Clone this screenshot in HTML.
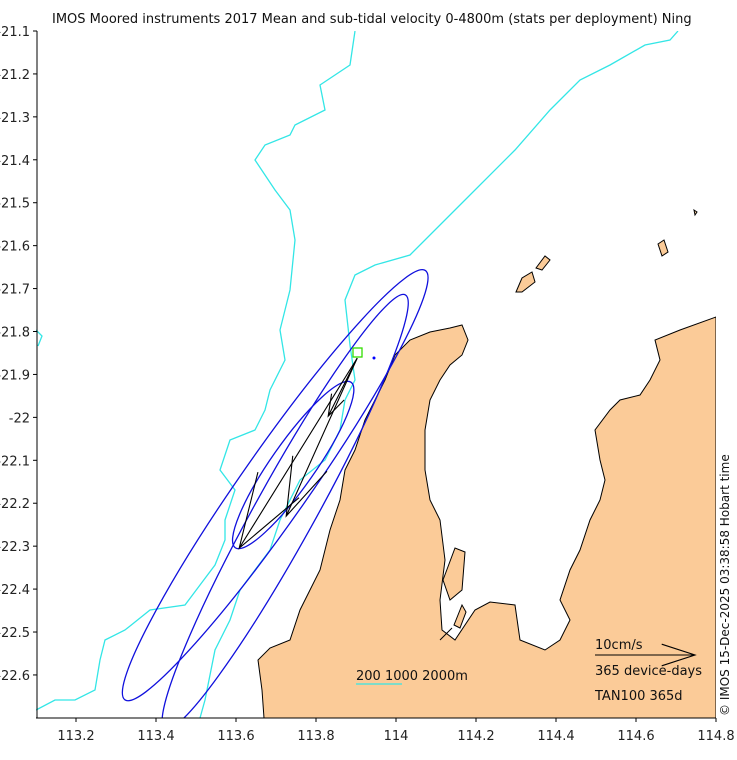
<!DOCTYPE html>
<html><head><meta charset="utf-8"><style>
body{margin:0;background:#fff;}
svg{display:block;font-family:"DejaVu Sans","Liberation Sans",sans-serif;}
</style></head><body>
<svg id="chart" width="737" height="760" viewBox="0 0 737 760">
<defs><clipPath id="plotclip"><rect x="36" y="31" width="680" height="687"/></clipPath></defs>
<text x="52" y="23" font-size="13" fill="#111">IMOS Moored instruments 2017 Mean and sub-tidal velocity 0-4800m (stats per deployment) Ning</text>
<g id="map" clip-path="url(#plotclip)">
<path fill="#fbcb98" stroke="#000" stroke-width="1" d="M264,718 L262,690 L258,660 L270,648 L290,640 L300,610 L320,570 L330,530 L340,500 L345,470 L355,450 L365,420 L375,400 L385,380 L395,355 L410,340 L430,332 L450,328 L462,325 L468,340 L462,355 L450,365 L440,380 L430,400 L425,430 L425,470 L430,500 L440,520 L445,560 L440,600 L442,630 L455,640 L475,610 L490,602 L515,605 L520,640 L545,650 L560,640 L570,620 L560,600 L570,570 L580,550 L590,520 L600,500 L605,480 L600,460 L595,430 L610,410 L620,400 L640,395 L650,380 L660,360 L655,340 L680,330 L716,317 L716,718 Z"/>
<path fill="#fbcb98" stroke="#000" stroke-width="1" d="M516,292 L522,278 L532,272 L535,282 L522,292 Z"/>
<path fill="#fbcb98" stroke="#000" stroke-width="1" d="M536,268 L545,256 L550,260 L542,270 Z"/>
<path fill="#fbcb98" stroke="#000" stroke-width="1" d="M658,244 L664,240 L668,252 L662,256 Z"/>
<path fill="#fbcb98" stroke="#000" stroke-width="1" d="M443,580 L455,548 L465,552 L462,590 L450,600 Z"/>
<path fill="#fbcb98" stroke="#000" stroke-width="1" d="M454,625 L462,605 L466,612 L460,628 Z"/>
<path fill="#fbcb98" stroke="#000" stroke-width="1" d="M694,210 L697,212 L695,215 Z"/>
<line x1="440" y1="640" x2="452" y2="628" stroke="#000"/>
<g id="contours" fill="none" stroke="#33e6e6" stroke-width="1.3">
<path d="M678,31 L670,40 L645,45 L610,65 L580,80 L550,110 L515,150 L460,205 L410,255 L375,265 L355,275 L345,300 L350,345 L355,380 L345,400 L340,430 L325,460 L300,480 L280,520 L270,550 L240,590 L230,620 L215,650 L205,700 L200,718"/>
<path d="M355,31 L350,65 L320,85 L325,110 L295,125 L290,135 L265,145 L255,160 L275,190 L290,210 L295,240 L290,290 L280,330 L285,360 L270,390 L265,410 L255,430 L230,440 L220,470 L235,490 L225,520 L225,540 L215,565 L200,585 L185,605 L150,610 L125,630 L105,640 L100,660 L95,690 L75,700 L55,700 L36,710"/>
<path d="M36,330 L42,336 L38,346"/>
</g>
<g id="ellipses"></g>
<g id="arrows"></g>
<rect x="353" y="348" width="9" height="9" fill="none" stroke="#33dd00" stroke-width="1.3"/>
<circle cx="374" cy="358" r="1.5" fill="#00f"/>
</g>
<g id="xaxis"></g>
<g id="yaxis"></g>
<g>
<text x="356" y="680" font-size="13" fill="#111">200 1000 2000m</text>
<line x1="356" y1="684" x2="402" y2="684" stroke="#33e6e6" stroke-width="1.3"/>
</g>
<g>
<text x="595" y="649" font-size="13" fill="#111">10cm/s</text>
<text x="595" y="675" font-size="13" fill="#111">365 device-days</text>
<text x="595" y="700" font-size="13" fill="#111">TAN100 365d</text>
<g id="legendArrow"></g>
</g>
<text transform="translate(729,716) rotate(-90)" font-size="12" fill="#111">© IMOS 15-Dec-2025 03:38:58 Hobart time</text>
</svg>
<script>
const xTicks=[113.2,113.4,113.6,113.8,114,114.2,114.4,114.6,114.8];
const yTicks=[21.1,21.2,21.3,21.4,21.5,21.6,21.7,21.8,21.9,22,22.1,22.2,22.3,22.4,22.5,22.6];
const siteLon=113.903, siteLat=21.862;
const arrowU=[-11.8,-7.1,-2.9];
const arrowV=[-19.0,-15.8,-5.8];
const ellLon=[113.698,113.723,113.743];
const ellLat=[22.158,22.220,22.111];
const ellMajor=[262,248,101];
const ellMinor=[34,30,22];
const ellAngle=[-55,-61,-55];
const legendSpeed=[10];
const sx=v=>36+(v-113.1)*400;
const sy=v=>31+(v-21.1)*429.3;
const pxPerCm=10;
const NS="http://www.w3.org/2000/svg";
function mk(t,a,p){const e=document.createElementNS(NS,t);for(const k in a)e.setAttribute(k,a[k]);p.appendChild(e);return e;}
const xa=document.getElementById('xaxis'),ya=document.getElementById('yaxis');
const xl=mk('line',{x1:36,y1:718,x2:716,y2:718,stroke:'#000'},xa);


const yl=mk('line',{x1:37,y1:31,x2:37,y2:718,stroke:'#000'},ya);


xTicks.forEach(v=>{const x=sx(v);
const tk=mk('line',{x1:x,y1:718,x2:x,y2:722,stroke:'#000'},xa);


const t=mk('text',{x:x,y:740,'font-size':13,'text-anchor':'middle',fill:'#222'},xa);


t.textContent=String(v);});
yTicks.forEach(v=>{const y=sy(v);
const tk=mk('line',{x1:33,y1:y,x2:37,y2:y,stroke:'#000'},ya);


const t=mk('text',{x:30,y:y+5,'font-size':13,'text-anchor':'end',fill:'#222'},ya);


t.textContent='-'+(Number.isInteger(v)?String(v):v.toFixed(1));});
const eg=document.getElementById('ellipses');
ellLon.forEach((lo,i)=>{const e=mk('ellipse',{cx:sx(lo),cy:sy(ellLat[i]),rx:ellMajor[i],ry:ellMinor[i],transform:`rotate(${ellAngle[i]} ${sx(lo)} ${sy(ellLat[i])})`,fill:'none',stroke:'#1010dd','stroke-width':1.3},eg);

});
function arrow(x0,y0,dx,dy,p,name){const x1=x0+dx,y1=y0+dy,L=Math.hypot(dx,dy),a=Math.atan2(dy,dx),h=L*0.35,s=18*Math.PI/180;
const g=mk('path',{d:`M${x0},${y0} L${x1},${y1} M${x1-h*Math.cos(a-s)},${y1-h*Math.sin(a-s)} L${x1},${y1} L${x1-h*Math.cos(a+s)},${y1-h*Math.sin(a+s)}`,fill:'none',stroke:'#000','stroke-width':1.1},p);

}
const ag=document.getElementById('arrows');
arrowU.forEach((u,i)=>arrow(sx(siteLon),sy(siteLat),u*pxPerCm,-arrowV[i]*pxPerCm,ag,'velocity-arrow'));
arrow(595,655,legendSpeed[0]*pxPerCm,0,document.getElementById('legendArrow'),'scale-arrow-line');
</script>
</body></html>
